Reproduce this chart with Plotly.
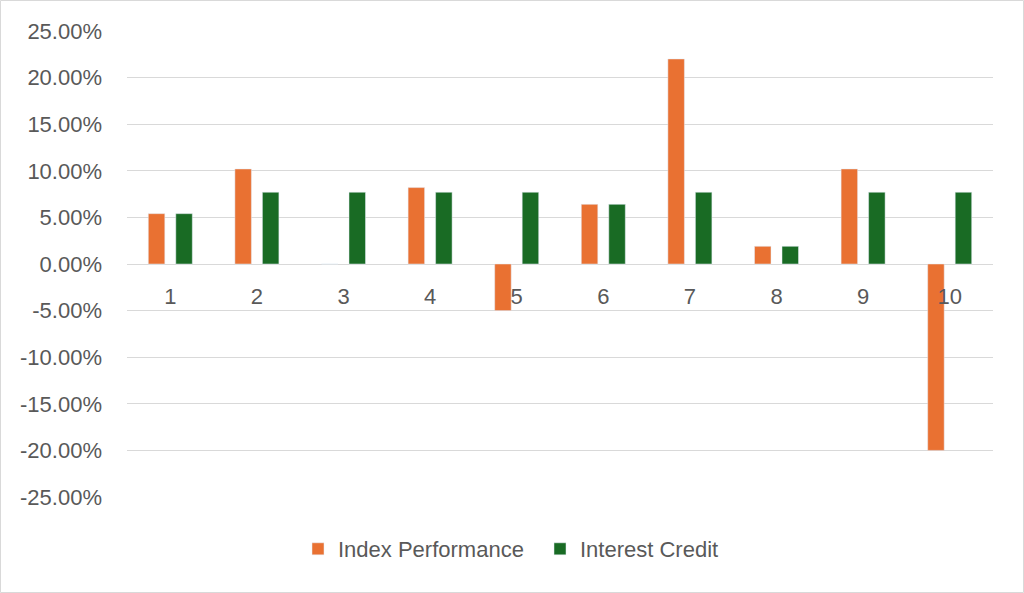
import plotly.graph_objects as go

categories = ["1", "2", "3", "4", "5", "6", "7", "8", "9", "10"]
index_performance = [5.4, 10.2, 0.0, 8.2, -5.0, 6.4, 22.0, 1.9, 10.2, -20.0]
interest_credit = [5.4, 7.7, 7.7, 7.7, 7.7, 6.4, 7.7, 1.9, 7.7, 7.7]
y_ticks = [-25, -20, -15, -10, -5, 0, 5, 10, 15, 20, 25]
y_tick_labels = [f"{v:.2f}%" for v in y_ticks]

ORANGE = "#E97132"
GREEN = "#196B24"
TEXT = "#595959"
GRID = "#D9D9D9"
FONT = "Liberation Sans, Arial, sans-serif"
FS = 22

fig = go.Figure()
fig.add_trace(go.Bar(x=categories, y=[v / 100 for v in index_performance],
                     name="Index Performance", marker_color=ORANGE))
fig.add_trace(go.Bar(x=categories, y=[v / 100 for v in interest_credit],
                     name="Interest Credit", marker_color=GREEN))

L, R, T, B = 127, 31, 31, 96
W, H = 1024, 593
pw, ph = W - L - R, H - T - B

fig.update_layout(
    width=W, height=H,
    margin=dict(l=L, r=R, t=T, b=B, pad=0),
    paper_bgcolor="white", plot_bgcolor="white",
    barmode="group", bargap=0.365, bargroupgap=0.4,
    font=dict(family=FONT, size=FS, color=TEXT),
    showlegend=True,
    legend=dict(orientation="h", x=(298 - L) / pw, xanchor="left",
                y=(H - B - 549) / ph, yanchor="middle",
                entrywidth=197, entrywidthmode="pixels",
                font=dict(family=FONT, size=FS, color=TEXT),
                itemwidth=30, bgcolor="rgba(0,0,0,0)"),
    xaxis=dict(type="category", showgrid=False, showline=False, zeroline=False,
               ticks="", anchor="free", position=0.5, ticklabelstandoff=17,
               tickfont=dict(family=FONT, size=FS, color=TEXT)),
    yaxis=dict(range=[-0.25, 0.25], tickvals=[v / 100 for v in y_ticks],
               ticktext=y_tick_labels, showgrid=True, gridcolor=GRID, gridwidth=1.3,
               zeroline=True, zerolinecolor=GRID, zerolinewidth=1.3,
               showline=False, ticks="", ticklabelstandoff=24,
               tickfont=dict(family=FONT, size=FS, color=TEXT)),
    shapes=[dict(type="rect", xref="paper", yref="paper",
                 x0=(0.5 - L) / pw, x1=(W - 0.5 - L) / pw,
                 y0=(H - B - (H - 0.5)) / ph, y1=(H - B - 0.5) / ph,
                 line=dict(color=GRID, width=1), fillcolor="rgba(0,0,0,0)",
                 layer="below")],
)

fig.write_html("out.html", config={"displayModeBar": False},
               post_script="document.body.style.margin='0';document.body.style.overflow='hidden';")
